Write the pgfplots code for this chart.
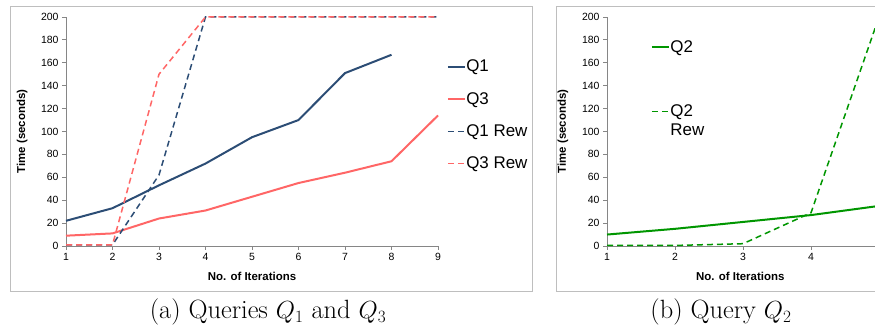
\documentclass[border=0pt]{standalone}
\usepackage{pgfplots}
\pgfplotsset{compat=1.18}
\usepackage{fontspec}
\newfontfamily\arial{Liberation Sans}
\definecolor{qblue}{RGB}{44,77,117}
\definecolor{qred}{RGB}{255,102,102}
\definecolor{qgreen}{RGB}{0,150,0}
\definecolor{framegray}{RGB}{190,190,190}
\definecolor{axgray}{RGB}{134,134,134}
\pgfplotsset{
  excel/.style={
    scale only axis,
    clip=false,
    axis lines*=left,
    axis line style={axgray, line width=0.8bp},
    tick align=outside,
    major tick length=4bp,
    tick style={axgray, line width=0.8bp},
    ymin=0, ymax=200, ytick={0,20,...,200},
    xmin=1,
    tick label style={font=\arial\fontsize{10.5}{12}\selectfont},
    /pgf/number format/assume math mode=true,
    label style={font=\arial\bfseries\fontsize{11.5}{13}\selectfont},
    xlabel={No. of Iterations}, ylabel={Time (seconds)},
    legend style={draw=none, fill=none, font=\arial\fontsize{17}{19}\selectfont,
      cells={anchor=west}, nodes={inner xsep=0.5bp}},
    legend image code/.code={\draw[##1] (0bp,0bp) -- (17bp,0bp);},
  }
}
\begin{document}
\begin{tikzpicture}
\useasboundingbox (0,0) rectangle (875bp,326bp);
\clip (0,0) rectangle (875bp,326bp);
\draw[framegray, line width=1bp] (10bp,34bp) rectangle (532bp,319bp);
\draw[framegray, line width=1bp] (556bp,34bp) rectangle (900bp,319bp);
\node[inner sep=0pt] at (268bp,14bp) {\fontsize{26.5}{30}\selectfont (a) Queries $Q_1$ and $Q_3$};
\node[inner sep=0pt] at (721bp,14bp) {\fontsize{26.5}{30}\selectfont (b) Query $Q_2$};

\begin{axis}[excel, at={(66bp,80bp)}, anchor=south west, width=372bp, height=229bp,
  xmax=9, xtick={1,...,9},
  ylabel style={at={(axis description cs:-0.118,0.5)}, anchor=center},
  xlabel style={at={(axis description cs:0.5,-0.131)}, anchor=center},
  legend style={at={(axis description cs:1.015,0.83)}, anchor=north west, row sep=15bp}]
\addplot[qblue, line width=2bp] coordinates {(1,22)(2,33)(3,53)(4,72)(5,95)(6,110)(7,151)(8,167)};
\addplot[qred, line width=2bp] coordinates {(1,9)(2,11)(3,24)(4,31)(5,43)(6,55)(7,64)(8,74)(9,114)};
\addplot[qblue, line width=1.5bp, dash pattern=on 6bp off 4bp] coordinates {(1,1)(2,1)(3,62)(4,200)(5,200)(6,200)(7,200)(8,200)(9,200)};
\addplot[qred, line width=1.5bp, dash pattern=on 6bp off 4bp] coordinates {(1,1)(2,1)(3,150)(4,200)(5,200)(6,200)(7,200)(8,200)(9,200)};
\legend{Q1,Q3,Q1 Rew,Q3 Rew}
\end{axis}

\begin{axis}[excel, at={(607bp,80bp)}, anchor=south west, width=272bp, height=229bp,
  xmax=5, xtick={1,2,3,4},
  ylabel style={at={(axis description cs:-0.162,0.5)}, anchor=center},
  xlabel style={at={(axis description cs:0.49,-0.131)}, anchor=center},
  legend style={at={(axis description cs:0.15,0.915)}, anchor=north west, row sep=47bp}]
\addplot[qgreen, line width=2bp] coordinates {(1,10)(2,15)(3,21)(4,27)(5,35)};
\addplot[qgreen, line width=1.5bp, dash pattern=on 6bp off 4bp] coordinates {(1,0.5)(2,0.5)(3,2)(4,29)(5,200)};
\legend{Q2,{\vtop{\hbox{Q2}\hbox{Rew}}}}
\end{axis}
\end{tikzpicture}
\end{document}
